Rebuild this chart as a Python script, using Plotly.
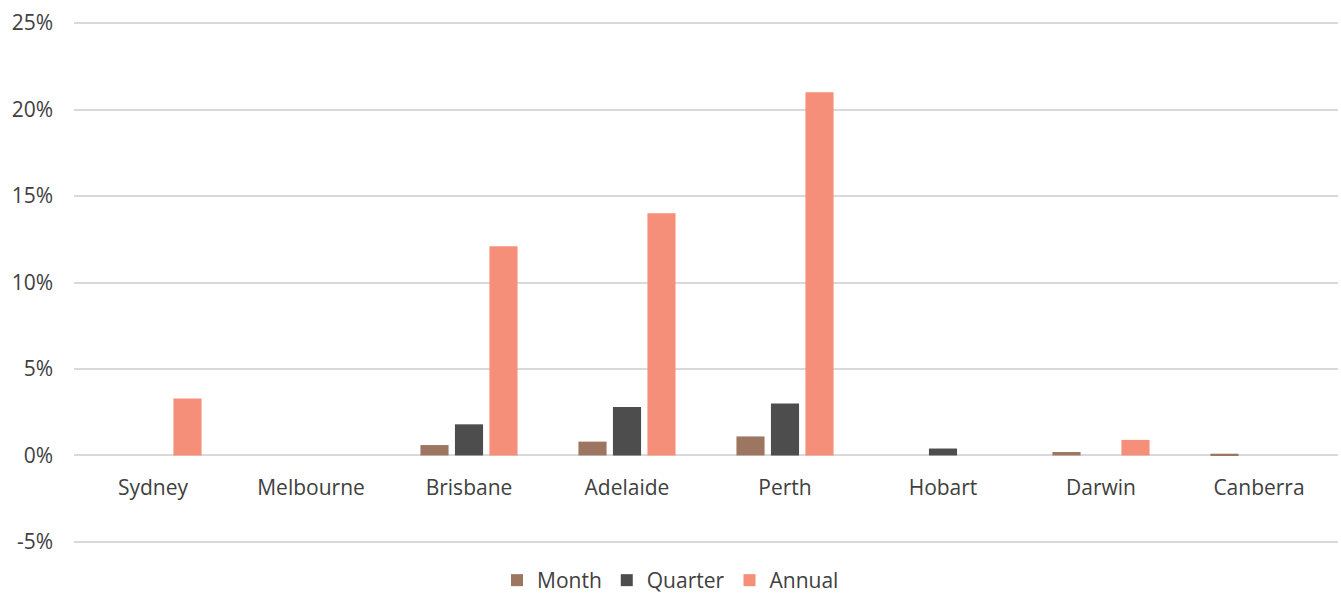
import plotly.graph_objects as go

cities = ["Sydney", "Melbourne", "Brisbane", "Adelaide", "Perth", "Hobart", "Darwin", "Canberra"]
month = [0.0, 0.0, 0.6, 0.8, 1.1, 0.0, 0.2, 0.1]
quarter = [0.0, 0.0, 1.8, 2.8, 3.0, 0.4, 0.0, 0.0]
annual = [3.3, 0.0, 12.1, 14.0, 21.0, 0.0, 0.9, 0.0]

y_ticks = [-5, 0, 5, 10, 15, 20, 25]
y_labels = [f"{v}%" for v in y_ticks]

colors = {"Month": "#9C7660", "Quarter": "#4D4D4D", "Annual": "#F68F7A"}

fig = go.Figure()
for name, vals in [("Month", month), ("Quarter", quarter), ("Annual", annual)]:
    fig.add_trace(go.Bar(
        x=cities, y=vals, name=name,
        marker=dict(color=colors[name], line=dict(width=0)),
        hoverinfo="skip",
    ))

font_family = "Open Sans, Noto Sans, sans-serif"
text_color = "#404040"
fs = 21
# plot area: y from 21 (top, 25.12%) to 544 (bottom, -5.12%)
fig.update_layout(
    width=1341, height=601,
    margin=dict(l=74, r=3, t=21, b=57, autoexpand=False),
    paper_bgcolor="white", plot_bgcolor="white",
    barmode="group", bargap=0.345, bargroupgap=0.185,
    font=dict(family=font_family, size=fs, color=text_color),
    showlegend=True,
    legend=dict(orientation="h", x=0.5, xanchor="center", xref="container",
                y=-0.012, yanchor="bottom", yref="container",
                font=dict(size=fs, color=text_color), itemwidth=30,
                traceorder="normal", tracegroupgap=0),
    xaxis=dict(
        anchor="free", position=(544 - 455) / 523,
        showgrid=False, showline=False, zeroline=False,
        ticks="", ticklabelstandoff=18,
        tickfont=dict(size=fs, color=text_color),
    ),
    yaxis=dict(
        range=[-5.12, 25.12], tickvals=y_ticks, ticktext=y_labels,
        showgrid=True, gridcolor="#D9D9D9", gridwidth=2,
        zeroline=True, zerolinecolor="#D9D9D9", zerolinewidth=2,
        showline=False, ticks="", ticklabelstandoff=20,
        tickfont=dict(size=fs, color=text_color),
    ),
)

fig.write_html("out.html", config={"displayModeBar": False},
               post_script="document.body.style.margin='0';")
